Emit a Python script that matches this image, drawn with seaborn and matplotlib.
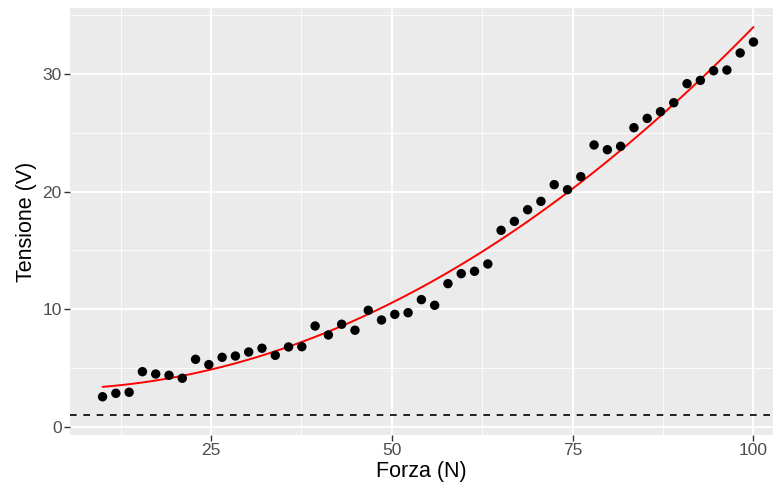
import matplotlib
matplotlib.use("Agg")
import matplotlib.pyplot as plt
from matplotlib.ticker import MultipleLocator
import numpy as np
import pandas as pd
import seaborn as sns

# Dati
forza = np.linspace(10, 100, 50)
tensione = [2.57, 2.86, 2.95, 4.70, 4.50, 4.39, 4.14, 5.75, 5.30, 5.92,
            6.03, 6.37, 6.69, 6.09, 6.80, 6.82, 8.58, 7.82, 8.73, 8.22,
            9.91, 9.09, 9.57, 9.71, 10.82, 10.34, 12.18, 13.03, 13.23, 13.85,
            16.71, 17.47, 18.46, 19.17, 20.59, 20.16, 21.27, 23.96, 23.56, 23.85,
            25.43, 26.22, 26.79, 27.55, 29.17, 29.45, 30.27, 30.33, 31.78, 32.71]
soglia = 1.0

df = pd.DataFrame({"forza": forza, "tensione": tensione})

sns.set_style("darkgrid", {"axes.facecolor": "#EBEBEB", "grid.color": "white"})
plt.rcParams["font.family"] = ["Liberation Sans", "DejaVu Sans"]

fig, ax = plt.subplots(figsize=(7.73, 4.87), dpi=100)
fig.subplots_adjust(left=0.0906, right=1.0, top=0.9836, bottom=0.1068)

# curva di fit quadratica
sns.regplot(data=df, x="forza", y="tensione", order=2, ci=None, ax=ax,
            scatter=False, line_kws={"color": "red", "linewidth": 1.4}, truncate=True)
sns.scatterplot(data=df, x="forza", y="tensione", ax=ax, color="black",
                s=46, edgecolor="none", zorder=3)
ax.axhline(soglia, color="black", linewidth=1.2, linestyle=(0, (4, 4)))

ax.set_xlim(5.5, 102.7)
ax.set_ylim(-0.68, 35.6)
ax.xaxis.set_major_locator(MultipleLocator(25))
ax.xaxis.set_minor_locator(MultipleLocator(12.5))
ax.yaxis.set_major_locator(MultipleLocator(10))
ax.yaxis.set_minor_locator(MultipleLocator(5))
ax.grid(which="major", color="white", linewidth=1.3)
ax.grid(which="minor", color="white", linewidth=0.6)
ax.set_axisbelow(True)
for s in ax.spines.values():
    s.set_visible(False)
ax.tick_params(which="major", length=4, width=1, color="#333333",
               labelcolor="#4D4D4D", labelsize=12.5, pad=2, bottom=True, left=True)
ax.tick_params(which="minor", length=0)

ax.set_xlabel("Forza (N)", fontsize=15.5, color="black", labelpad=2)
ax.set_ylabel("Tensione (V)", fontsize=15.5, color="black", labelpad=4)

fig.savefig("out.png", dpi=100)
